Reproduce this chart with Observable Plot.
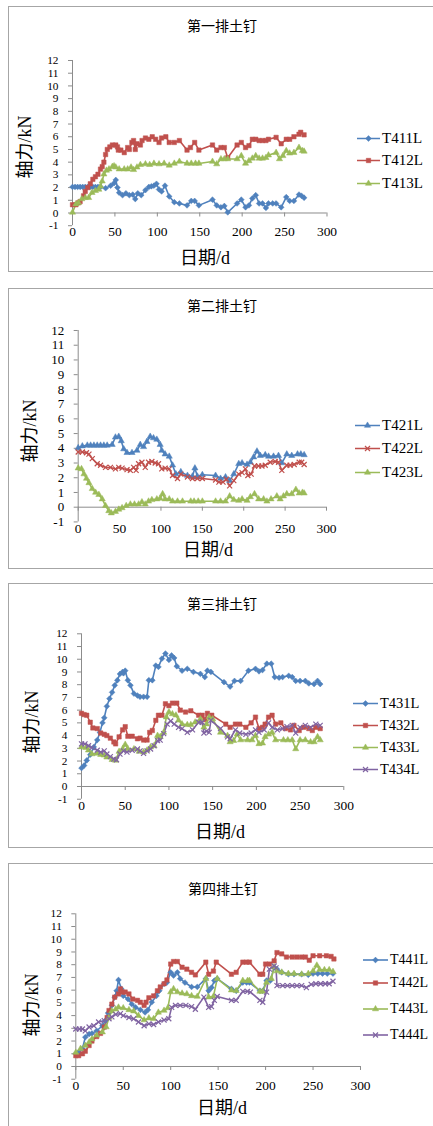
<!DOCTYPE html>
<html><head><meta charset="utf-8">
<script src="https://cdn.jsdelivr.net/npm/d3@7"></script>
<script src="https://cdn.jsdelivr.net/npm/@observablehq/plot@0.6"></script>
<style>
html,body{margin:0;padding:0;background:#fff;}
body{width:433px;height:1126px;overflow:hidden;position:relative;}
.box{position:absolute;border:1px solid #a6a6a6;box-sizing:border-box;background:#fff;}
.t{position:absolute;white-space:nowrap;transform:translate(-50%,-50%);line-height:1;color:#000;}
.title{font-family:"Noto Sans CJK SC","Noto Sans",sans-serif;font-size:14px;}
.ylab{font-family:"Liberation Serif","Noto Sans CJK SC",serif;font-size:18px;transform:translate(-50%,-50%) rotate(-90deg);}
.xlab{font-family:"Liberation Serif","Noto Sans CJK SC",serif;font-size:18px;}
.leg{position:absolute;white-space:nowrap;font-family:"Liberation Serif",serif;color:#000;display:flex;align-items:center;transform:translateY(-50%);}
.leg svg{display:block;margin-right:2px;}
</style></head><body>
<script>
// ---------- data ----------
const xTicks = [0, 50, 100, 150, 200, 250, 300];
const yTicks = [-1, 0, 1, 2, 3, 4, 5, 6, 7, 8, 9, 10, 11, 12];
const titles = ["第一排土钉", "第二排土钉", "第三排土钉", "第四排土钉"];
const yLabel = "轴力/kN";
const xLabel = "日期/d";

const T411L = [[0,2.05],[3,2.05],[6,2.05],[9,2.05],[12,2.05],[15,2.05],[18,2.05],[21,2.05],[24,2.05],[27,2.05],[30,2.05],[33,2.05],[39,1.95],[45,2.15],[49,2.35],[51,2.6],[53,2.0],[55,1.6],[59,1.4],[63,1.55],[67,1.4],[71,1.45],[74,1.1],[77,1.55],[81,1.4],[86,1.8],[90,2.05],[93,2.1],[96,2.15],[99,2.3],[102,1.85],[105,1.7],[109,2.15],[114,1.3],[120,0.85],[126,0.75],[135,0.6],[140,0.95],[144,0.95],[149,0.6],[165,1.05],[170,0.6],[175,0.45],[179,0.55],[183,0.05],[194,0.75],[199,1.05],[204,0.45],[208,0.6],[212,1.15],[216,1.4],[220,0.75],[224,0.75],[228,0.4],[231,0.75],[236,0.75],[240,0.75],[246,0.45],[252,1.25],[256,0.95],[261,0.95],[267,1.45],[270,1.35],[273,1.2]];
const T412L = [[0,0.65],[4,0.65],[7,0.8],[9,0.9],[13,1.35],[15,1.7],[18,2.0],[21,2.3],[24,2.65],[27,2.85],[30,3.05],[33,3.45],[35,3.65],[37,4.0],[39,4.6],[41,5.0],[44,5.2],[47,5.35],[51,5.35],[53,5.2],[54,4.95],[57,4.95],[61,4.75],[65,5.15],[67,5.0],[70,5.55],[72,5.7],[74,5.0],[76,5.45],[80,5.35],[82,5.7],[86,5.9],[90,5.8],[94,6.0],[98,5.8],[102,5.55],[105,5.9],[110,6.0],[114,5.55],[120,5.55],[126,5.7],[135,4.95],[139,5.15],[144,5.55],[149,4.95],[165,5.35],[170,4.95],[175,5.15],[179,5.15],[183,4.35],[194,5.35],[199,5.55],[204,5.15],[208,5.3],[212,5.8],[216,5.8],[220,5.7],[224,5.7],[228,5.7],[231,5.8],[240,5.95],[246,5.45],[252,5.8],[256,5.8],[261,6.0],[267,6.2],[269,6.35],[273,6.15]];
const T413L = [[0,0.05],[4,0.7],[7,0.8],[11,1.1],[15,1.2],[19,1.2],[23,1.6],[27,1.75],[31,1.85],[33,2.1],[35,2.5],[37,3.05],[40,3.35],[43,3.45],[47,3.65],[49,3.7],[51,3.6],[55,3.45],[61,3.45],[65,3.45],[69,3.6],[72,3.4],[76,3.6],[80,3.8],[86,3.85],[91,3.8],[96,3.9],[102,3.85],[108,3.9],[114,3.75],[120,3.9],[126,4.05],[135,3.9],[140,3.9],[145,3.9],[149,3.9],[165,4.05],[170,3.85],[175,4.25],[179,4.25],[183,4.25],[194,4.25],[199,4.5],[204,3.9],[208,4.1],[212,4.3],[216,4.5],[220,4.3],[224,4.3],[228,4.35],[231,4.55],[240,4.75],[244,4.25],[248,4.5],[252,4.9],[256,4.7],[261,4.75],[267,5.15],[271,4.9],[273,4.85]];

const T421L = [[0,4.03],[5,4.15],[11,4.2],[15,4.2],[19,4.2],[23,4.2],[27,4.2],[31,4.2],[35,4.2],[41,4.25],[45,4.75],[49,4.8],[52,4.5],[55,3.95],[59,3.7],[65,3.7],[71,3.85],[75,4.25],[79,4.1],[83,4.45],[87,4.8],[91,4.7],[95,4.6],[99,4.25],[101,3.85],[105,3.6],[110,3.45],[114,2.85],[118,2.25],[124,2.4],[132,2.15],[138,2.1],[141,2.65],[144,2.1],[150,2.2],[166,2.15],[172,1.95],[178,2.05],[183,1.8],[188,2.25],[194,2.95],[198,3.0],[204,2.9],[208,3.05],[212,3.4],[216,3.8],[220,3.5],[226,3.55],[230,3.45],[236,3.45],[242,3.5],[246,3.0],[252,3.6],[258,3.5],[265,3.6],[269,3.6],[273,3.55]];
const T422L = [[0,3.75],[5,3.75],[10,3.7],[13,3.6],[17,3.3],[23,2.95],[27,2.85],[33,2.7],[39,2.7],[45,2.6],[49,2.7],[53,2.65],[59,2.55],[63,2.5],[67,2.7],[70,2.5],[73,2.95],[77,3.05],[81,2.7],[85,3.05],[89,3.1],[93,3.0],[97,2.95],[101,2.6],[105,2.65],[110,2.6],[114,2.15],[120,1.95],[124,2.25],[132,2.05],[138,1.95],[144,1.95],[150,1.95],[166,1.85],[170,1.7],[175,1.7],[179,1.9],[183,1.45],[188,1.8],[194,2.25],[198,2.35],[202,2.6],[205,2.15],[209,2.25],[213,2.8],[218,2.8],[222,2.8],[226,2.85],[232,3.05],[238,3.1],[242,3.05],[246,2.5],[252,2.85],[256,2.85],[261,2.9],[267,3.05],[270,3.05],[273,2.9]];
const T423L = [[0,2.65],[4,2.6],[7,2.25],[10,1.95],[13,1.65],[17,1.25],[21,1.0],[25,0.85],[29,0.55],[33,0.1],[37,-0.25],[40,-0.4],[45,-0.3],[49,-0.15],[53,-0.05],[58,0.1],[63,0.2],[68,0.2],[73,0.2],[77,0.35],[81,0.2],[85,0.4],[89,0.5],[95,0.55],[99,0.6],[102,0.9],[105,0.55],[110,0.55],[114,0.4],[120,0.4],[126,0.4],[136,0.4],[140,0.4],[145,0.4],[150,0.4],[166,0.4],[172,0.4],[178,0.4],[183,0.75],[188,0.5],[194,0.45],[198,0.55],[204,0.45],[208,0.7],[213,0.9],[218,0.55],[224,0.55],[228,0.4],[233,0.55],[240,0.75],[244,0.55],[248,0.75],[252,0.9],[258,0.9],[263,1.2],[267,0.95],[271,1.0],[273,0.95]];

const T431L = [[0,1.45],[3,1.65],[6,2.05],[10,2.5],[14,3.1],[18,3.65],[21,4.25],[24,5.0],[26,5.4],[29,6.3],[32,6.9],[35,7.4],[38,7.95],[41,8.35],[44,8.85],[47,9.0],[48,8.9],[50,9.1],[53,8.35],[56,7.95],[60,7.3],[64,7.15],[67,7.05],[71,7.05],[75,7.05],[77,8.35],[81,8.35],[85,9.5],[88,9.4],[92,10.05],[96,10.45],[100,9.95],[103,10.3],[106,10.1],[109,9.45],[115,9.1],[121,9.25],[128,9.0],[136,8.85],[141,8.6],[144,9.1],[148,9.0],[163,8.2],[170,7.85],[175,8.3],[182,8.3],[191,9.1],[199,9.25],[203,9.05],[207,9.15],[212,9.65],[217,9.65],[221,8.6],[226,8.55],[230,8.6],[237,8.7],[241,8.6],[245,8.3],[250,8.3],[256,8.3],[260,8.1],[266,8.05],[270,8.3],[273,8.05]];
const T432L = [[0,5.75],[3,5.65],[6,5.6],[10,5.05],[13,4.6],[18,4.55],[22,4.2],[26,4.1],[29,4.0],[33,3.8],[37,3.5],[39,3.35],[43,3.9],[47,4.45],[50,4.7],[53,3.95],[58,3.95],[64,3.75],[67,3.8],[71,3.65],[75,3.65],[78,4.25],[81,4.4],[85,5.2],[88,5.6],[92,5.6],[96,6.5],[100,6.35],[104,6.55],[109,6.55],[113,6.0],[119,5.85],[125,5.95],[134,5.6],[138,5.6],[141,5.25],[144,5.75],[149,5.6],[165,4.9],[170,4.65],[176,4.9],[181,4.9],[188,4.65],[194,5.0],[199,5.45],[203,4.55],[207,4.65],[210,4.9],[214,5.45],[218,5.6],[222,4.9],[228,5.0],[233,4.55],[239,4.45],[243,4.8],[249,4.4],[254,4.65],[260,4.55],[264,4.4],[268,4.65],[273,4.55]];
const T433L = [[0,3.1],[5,3.05],[8,2.85],[12,2.55],[18,2.6],[22,2.5],[26,2.45],[29,2.3],[35,2.1],[39,2.05],[43,2.75],[47,2.95],[50,3.3],[53,2.95],[60,2.95],[66,2.75],[71,2.7],[75,2.85],[79,3.1],[83,3.2],[87,4.0],[90,3.9],[94,4.25],[97,5.45],[100,5.85],[104,5.7],[108,5.6],[111,5.2],[115,4.9],[121,4.85],[125,4.85],[130,5.05],[136,5.3],[140,4.65],[143,4.9],[146,5.45],[150,5.3],[159,4.25],[167,4.0],[170,3.5],[174,3.6],[178,4.1],[182,3.65],[190,3.65],[195,3.65],[199,4.0],[203,3.35],[207,3.4],[210,3.9],[214,4.1],[218,4.25],[222,3.65],[231,3.65],[236,3.65],[241,3.65],[245,2.95],[250,3.65],[256,3.65],[262,3.5],[266,3.5],[270,3.9],[273,3.65]];
const T434L = [[0,3.35],[4,3.35],[8,3.2],[12,3.05],[18,2.85],[22,2.7],[26,2.8],[29,2.55],[33,2.35],[37,2.15],[40,2.1],[44,2.55],[48,2.8],[52,2.7],[58,2.85],[64,2.95],[67,2.8],[71,2.6],[75,2.8],[79,2.95],[83,3.2],[87,3.6],[90,3.65],[94,4.15],[98,4.9],[102,5.15],[106,4.9],[111,4.65],[115,4.55],[121,4.25],[127,4.45],[134,5.05],[138,5.05],[140,4.2],[143,4.35],[146,4.25],[148,5.2],[159,4.55],[167,3.9],[170,3.75],[176,4.45],[181,4.2],[188,4.1],[194,4.2],[199,4.45],[203,4.25],[209,4.45],[214,5.0],[218,4.65],[224,4.45],[230,4.55],[235,4.7],[241,4.8],[245,4.2],[250,4.65],[256,4.8],[262,4.65],[268,4.9],[273,4.8]];

const T441L = [[0,1.0],[3,1.1],[7,1.4],[10,2.3],[14,2.55],[17,2.6],[22,2.8],[28,3.2],[31,3.6],[34,4.2],[38,4.8],[41,5.45],[43,5.95],[45,6.8],[48,6.1],[50,5.55],[55,5.3],[59,4.9],[63,4.65],[68,4.45],[73,4.25],[76,4.45],[80,5.05],[85,5.55],[88,5.95],[93,6.5],[96,6.6],[100,7.4],[103,7.15],[107,7.4],[110,6.9],[115,6.6],[122,6.25],[128,6.25],[137,6.9],[140,5.95],[143,6.2],[146,6.75],[149,6.9],[164,6.1],[169,5.95],[176,6.6],[180,6.6],[183,6.6],[194,5.95],[197,5.95],[201,6.75],[205,6.75],[209,7.8],[212,7.65],[217,7.4],[224,7.25],[230,7.25],[238,7.25],[245,7.2],[250,7.3],[255,7.3],[260,7.3],[265,7.3],[271,7.3]];
const T442L = [[0,0.85],[3,0.85],[7,1.0],[10,1.2],[14,1.65],[17,2.0],[22,2.35],[26,2.6],[30,3.1],[33,3.85],[35,4.4],[38,4.9],[41,5.45],[45,5.7],[47,6.1],[49,5.85],[52,5.85],[56,5.7],[60,5.3],[65,5.2],[68,5.05],[72,4.8],[74,5.05],[77,5.4],[82,5.55],[86,5.95],[89,6.25],[93,6.5],[96,6.8],[100,8.05],[103,8.25],[107,8.25],[112,7.8],[117,7.65],[122,7.4],[126,7.2],[137,8.2],[140,7.25],[145,7.5],[148,8.2],[164,7.25],[169,7.4],[176,8.2],[180,8.2],[183,8.2],[194,7.25],[197,7.25],[200,8.05],[204,8.05],[209,8.3],[212,8.95],[217,8.85],[222,8.6],[228,8.6],[233,8.6],[238,8.6],[242,8.6],[246,8.35],[250,8.7],[257,8.7],[264,8.7],[269,8.65],[272,8.45]];
const T443L = [[0,1.1],[5,1.4],[10,1.65],[14,1.9],[17,2.15],[22,2.45],[28,2.7],[32,3.1],[35,3.85],[38,4.35],[42,4.5],[45,4.65],[50,4.6],[56,4.45],[61,4.35],[66,4.0],[72,3.65],[77,3.8],[82,3.75],[87,4.25],[93,4.4],[97,4.6],[100,5.85],[103,6.1],[107,5.85],[112,5.75],[117,5.7],[122,5.55],[128,5.5],[137,6.9],[140,5.45],[145,5.5],[149,6.9],[164,6.0],[169,5.95],[176,6.75],[181,6.75],[183,6.75],[194,5.9],[197,5.9],[201,6.6],[206,6.9],[209,7.8],[212,7.5],[217,7.4],[224,7.3],[230,7.3],[238,7.25],[245,7.3],[250,7.5],[254,7.95],[257,7.6],[262,7.6],[267,7.6],[271,7.45]];
const T444L = [[0,2.95],[4,2.95],[7,2.95],[10,2.8],[14,3.1],[19,3.2],[24,3.5],[30,3.6],[35,3.75],[38,3.9],[42,4.1],[47,4.15],[50,4.0],[56,3.85],[61,3.75],[66,3.5],[72,3.2],[77,3.35],[82,3.3],[87,3.5],[93,3.65],[98,3.75],[101,4.65],[105,4.8],[110,4.8],[116,4.8],[122,4.7],[126,4.5],[135,5.45],[140,4.65],[143,4.7],[146,5.2],[149,5.5],[164,5.2],[169,5.2],[176,5.9],[181,5.9],[184,5.85],[194,5.2],[197,5.05],[201,5.85],[204,7.65],[209,7.9],[211,7.75],[212,6.35],[218,6.35],[223,6.35],[228,6.35],[233,6.35],[238,6.35],[243,6.2],[248,6.45],[253,6.5],[258,6.5],[263,6.5],[267,6.5],[271,6.7]];

// ---------- styling ----------
const BLUE = "#4f81bd", RED = "#c0504d", GREEN = "#9bbb59", PURPLE = "#8064a2";
const AXIS = "#8c8c8c";
const diamondSq = {draw(ctx, size) { const s = Math.sqrt(size / 2); ctx.moveTo(0, -s); ctx.lineTo(s, 0); ctx.lineTo(0, s); ctx.lineTo(-s, 0); ctx.closePath(); }};
const SYM = {
  diamond: {sym: diamondSq, r: 2.3, fill: true},
  square: {sym: d3.symbolSquare, r: 2.5, fill: true},
  triangle: {sym: d3.symbolTriangle, r: 2.3, fill: true},
  times: {sym: d3.symbolTimes, r: 2.4, fill: false}
};

const panels = [
  {title: titles[0], box: [8, 6, 440, 266], x0: 72, x300: 326.5, y12: 60, y0: 212.5, yfs: 11.3,
   tt: [222, 25], yl: [25, 147], xl: [205, 258], leg: {x: 357, len: 23, ys: [138, 160, 183], fs: 15},
   series: [{name: "T411L", data: T411L, color: BLUE, s: "diamond"},
            {name: "T412L", data: T412L, color: RED, s: "square"},
            {name: "T413L", data: T413L, color: GREEN, s: "triangle"}]},
  {title: titles[1], box: [8, 288, 440, 281], x0: 77.7, x300: 326, y12: 330, y0: 506.7, yfs: 13,
   tt: [222, 305], yl: [30, 431], xl: [208, 550], leg: {x: 355, len: 25, ys: [425, 448, 472], fs: 15},
   series: [{name: "T421L", data: T421L, color: BLUE, s: "triangle"},
            {name: "T422L", data: T422L, color: RED, s: "times"},
            {name: "T423L", data: T423L, color: GREEN, s: "triangle"}]},
  {title: titles[2], box: [8, 583, 440, 265], x0: 81, x300: 343.3, y12: 633.3, y0: 786, yfs: 11.3,
   tt: [222, 603], yl: [32, 722], xl: [220, 832], leg: {x: 353, len: 25, ys: [703, 725, 747, 769], fs: 14.5},
   series: [{name: "T431L", data: T431L, color: BLUE, s: "diamond"},
            {name: "T432L", data: T432L, color: RED, s: "square"},
            {name: "T433L", data: T433L, color: GREEN, s: "triangle"},
            {name: "T434L", data: T434L, color: PURPLE, s: "times"}]},
  {title: titles[3], box: [8, 863, 440, 290], x0: 75.3, x300: 360, y12: 913.3, y0: 1066, yfs: 11.3,
   tt: [223, 888], yl: [32, 1005], xl: [222, 1108], leg: {x: 363, len: 25, ys: [960, 983, 1009, 1035], fs: 14},
   series: [{name: "T441L", data: T441L, color: BLUE, s: "diamond"},
            {name: "T442L", data: T442L, color: RED, s: "square"},
            {name: "T443L", data: T443L, color: GREEN, s: "triangle"},
            {name: "T444L", data: T444L, color: PURPLE, s: "times"}]}
];

function addText(cls, txt, x, y) {
  const d = document.createElement("div");
  d.className = "t " + cls;
  d.textContent = txt;
  d.style.left = x + "px";
  d.style.top = y + "px";
  document.body.appendChild(d);
}

for (const p of panels) {
  const box = document.createElement("div");
  box.className = "box";
  Object.assign(box.style, {left: p.box[0] + "px", top: p.box[1] + "px", width: p.box[2] + "px", height: p.box[3] + "px"});
  document.body.appendChild(box);

  const top = p.box[1] + 1;
  const unit = (p.y0 - p.y12) / 12;
  const yNeg1 = p.y0 + unit;
  const mb = 24;
  const marks = [
    Plot.ruleX([0], {stroke: AXIS}),
    Plot.ruleY([0], {stroke: AXIS}),
    Plot.ruleX(xTicks, {y1: 0, y2: -4 / unit, stroke: AXIS}),
    Plot.axisY({ticks: yTicks, tickSize: 4, tickPadding: 10, stroke: AXIS, fill: "#000", fontSize: p.yfs, tickFormat: d => String(d), label: null}),
    Plot.axisX({ticks: xTicks, tickSize: 0, tickPadding: 1, fill: "#000", fontSize: 13.5, tickFormat: d => String(d), label: null})
  ];
  for (const s of p.series) {
    marks.push(Plot.line(s.data, {x: d => d[0], y: d => d[1], stroke: s.color, strokeWidth: 1.6}));
  }
  for (const s of p.series) {
    const m = SYM[s.s];
    marks.push(Plot.dot(s.data, m.fill
      ? {x: d => d[0], y: d => d[1], symbol: m.sym, r: m.r, fill: s.color, stroke: s.color, strokeWidth: 0.5}
      : {x: d => d[0], y: d => d[1], symbol: m.sym, r: m.r, fill: "none", stroke: s.color, strokeWidth: 1.2}));
  }
  const svg = Plot.plot({
    width: 433,
    height: (yNeg1 - top) + mb,
    marginLeft: p.x0,
    marginRight: 433 - p.x300,
    marginTop: p.y12 - top,
    marginBottom: mb,
    x: {domain: [0, 300]},
    y: {domain: [-1, 12]},
    style: {background: "transparent", fontFamily: "'Liberation Serif', 'Times New Roman', serif", fontSize: "13px", color: "#000", overflow: "visible"},
    marks
  });
  svg.style.position = "absolute";
  svg.style.left = "0px";
  svg.style.top = top + "px";
  document.body.appendChild(svg);

  addText("title", p.title, p.tt[0], p.tt[1]);
  addText("ylab", yLabel, p.yl[0], p.yl[1]);
  addText("xlab", xLabel, p.xl[0], p.xl[1]);

  p.series.forEach((s, i) => {
    const m = SYM[s.s];
    const L = p.leg.len;
    const row = document.createElement("div");
    row.className = "leg";
    row.style.left = p.leg.x + "px";
    row.style.top = p.leg.ys[i] + "px";
    row.style.fontSize = p.leg.fs + "px";
    const ns = "http://www.w3.org/2000/svg";
    const sv = document.createElementNS(ns, "svg");
    sv.setAttribute("width", L); sv.setAttribute("height", 10);
    const ln = document.createElementNS(ns, "line");
    ln.setAttribute("x1", 0); ln.setAttribute("x2", L); ln.setAttribute("y1", 5); ln.setAttribute("y2", 5);
    ln.setAttribute("stroke", s.color); ln.setAttribute("stroke-width", 1.6);
    sv.appendChild(ln);
    const pt = document.createElementNS(ns, "path");
    pt.setAttribute("d", d3.symbol().type(m.sym).size(Math.PI * m.r * m.r)());
    pt.setAttribute("transform", `translate(${L / 2},5)`);
    if (m.fill) { pt.setAttribute("fill", s.color); pt.setAttribute("stroke", s.color); pt.setAttribute("stroke-width", 0.5); }
    else { pt.setAttribute("fill", "none"); pt.setAttribute("stroke", s.color); pt.setAttribute("stroke-width", 1.2); }
    sv.appendChild(pt);
    row.appendChild(sv);
    const tx = document.createElement("span");
    tx.textContent = s.name;
    row.appendChild(tx);
    document.body.appendChild(row);
  });
}
</script>
</body></html>
